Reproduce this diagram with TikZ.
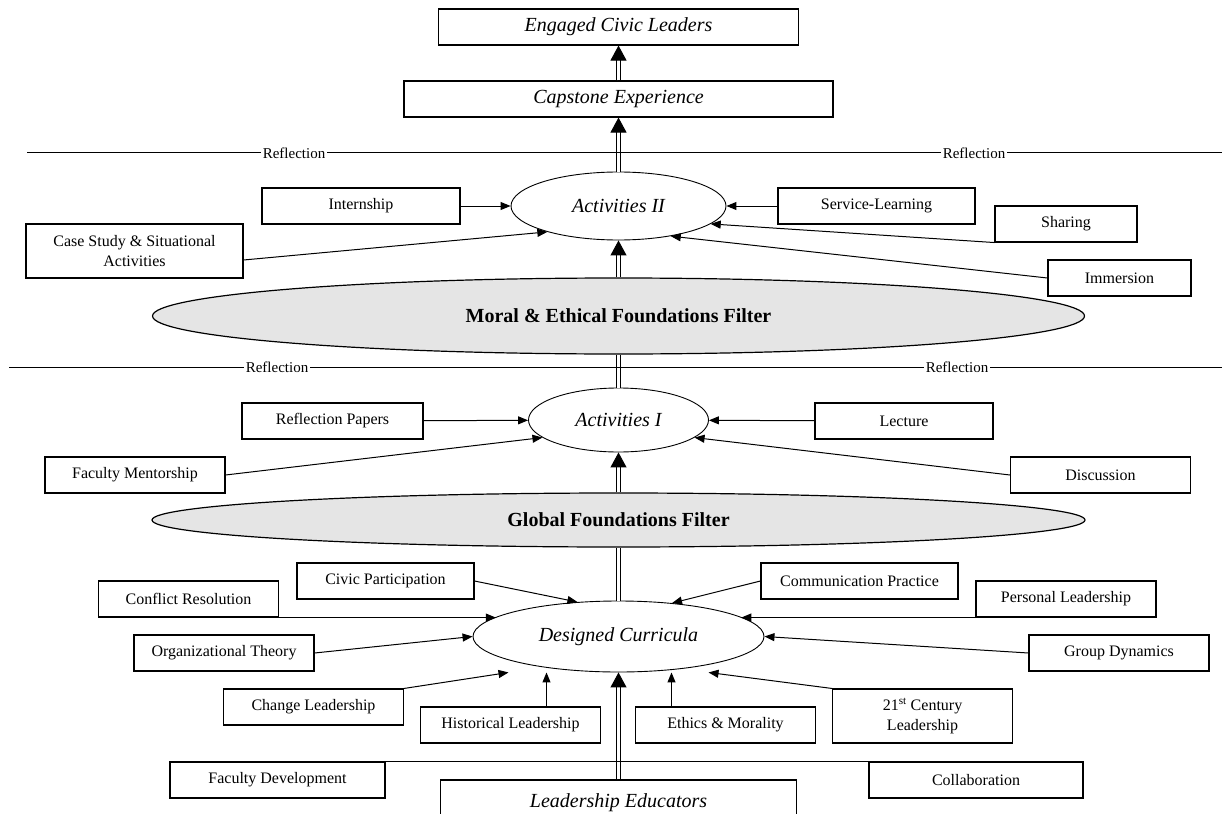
\documentclass[tikz,border=0pt]{standalone}
\usepackage{fontspec}
\setmainfont{Liberation Serif}
\usetikzlibrary{arrows.meta,positioning,calc,shapes.geometric}

\begin{document}
\begin{tikzpicture}[x=1pt,y=-1pt,
    box/.style={draw,line width=1.1pt,minimum width=180pt,minimum height=36pt,inner sep=2pt,align=center,font=\fontsize{16}{20}\selectfont},
    bigbox/.style={box,font=\fontsize{20}{24}\selectfont\itshape},
    oval/.style={draw,ellipse,line width=0.9pt,inner sep=0pt,font=\fontsize{20}{24}\selectfont\itshape},
    filter/.style={draw,ellipse,line width=1.2pt,inner sep=0pt,fill=black!10,font=\fontsize{20}{24}\selectfont\bfseries},
    refl/.style={inner sep=2pt,font=\fontsize{15}{17}\selectfont},
    arr/.style={line width=1pt,-{Triangle[length=10pt,width=8pt]}},
    trunk/.style={double,double distance=3.5pt,line width=1pt},
    uparr/.style={trunk,-{Triangle[length=15pt,width=16pt]}}]
    \useasboundingbox (0,0) rectangle (1222,813);
    \node[bigbox,minimum width=360pt] (eng) at (618.5,27) {Engaged Civic Leaders};
    \node[bigbox,minimum width=429pt] (cap) at (618.5,99) {Capstone Experience};
    \node[oval,minimum width=215pt,minimum height=68pt] (act2) at (618.5,206) {Activities II};
    \node[box,minimum width=198pt] (int) at (361,206) {Internship};
    \node[box,minimum width=197pt] (svc) at (876.5,206) {Service-Learning};
    \node[box,minimum width=142pt] (shr) at (1066,224) {Sharing};
    \node[box,minimum width=217pt,minimum height=54pt] (case) at (134.5,251) {Case Study \& Situational\\Activities};
    \node[box,minimum width=143pt] (imm) at (1119.5,278) {Immersion};
    \node[filter,minimum width=932pt,minimum height=76pt] (mef) at (618.5,316) {Moral \& Ethical Foundations Filter};
    \node[oval,minimum width=180pt,minimum height=64pt] (act1) at (618.5,420) {Activities I};
    \node[box,minimum width=181pt] (rp) at (332.5,421) {Reflection Papers};
    \node[box,minimum width=178pt] (lec) at (904,421) {Lecture};
    \node[box] (fm) at (135,475) {Faculty Mentorship};
    \node[box] (disc) at (1100.5,475) {Discussion};
    \node[filter,minimum width=933pt,minimum height=54pt] (gff) at (618.5,520) {Global Foundations Filter};
    \node[oval,minimum width=291pt,minimum height=71pt,label={[font=\fontsize{20}{24}\selectfont\itshape]center:Designed Curricula}] (dc) at (618.5,636.5) {};
    \node[box,minimum width=177pt] (civ) at (385.5,581) {Civic Participation};
    \node[box,minimum width=197pt] (com) at (859.5,581) {Communication Practice};
    \node[box] (conf) at (188.5,599) {Conflict Resolution};
    \node[box] (pers) at (1066,599) {Personal Leadership};
    \node[box] (org) at (224,653) {Organizational Theory};
    \node[box] (grp) at (1119,653) {Group Dynamics};
    \node[box] (chg) at (313.5,707) {Change Leadership};
    \node[box] (hist) at (510.5,725) {Historical Leadership};
    \node[box] (eth) at (725.5,725) {Ethics \& Morality};
    \node[box,minimum height=54pt] (c21) at (922.5,716) {21\textsuperscript{st} Century\\Leadership};
    \node[box,minimum width=215pt] (fd) at (277.5,780) {Faculty Development};
    \node[box,minimum width=214pt] (col) at (976,780) {Collaboration};
    \node[bigbox,minimum width=356pt,minimum height=46pt] (le) at (618.5,803) {Leadership Educators};

    \draw[uparr] (le) -- (dc);
    \draw[trunk] (dc) -- (gff);
    \draw[uparr] (gff) -- (act1);
    \draw[trunk] (act1) -- (mef);
    \draw[uparr] (mef) -- (act2);
    \draw[uparr] (act2) -- (cap);
    \draw[uparr] (cap) -- (eng);

    \coordinate (r1w) at (27,153);
    \coordinate (r1e) at (1222,153);
    \node[refl] (r1a) at (294,153) {Reflection};
    \node[refl] (r1b) at (974,153) {Reflection};
    \draw[line width=1pt] (r1w) -- (r1a) -- (r1b) -- (r1e);
    \coordinate (r2w) at (9,367);
    \coordinate (r2e) at (1222,367);
    \node[refl] (r2a) at (277,367) {Reflection};
    \node[refl] (r2b) at (957,367) {Reflection};
    \draw[line width=1pt] (r2w) -- (r2a) -- (r2b) -- (r2e);

    \draw[arr] (int) -- (act2);
    \draw[arr] (svc) -- (act2);
    \draw[arr] (shr.south west) -- (act2.-11);
    \draw[arr] ([yshift=-9pt]case.east) -- (act2.200);
    \draw[arr] (imm.west) -- (act2.-30);
    \draw[arr] (rp) -- (act1);
    \draw[arr] (lec) -- (act1);
    \draw[arr] (fm.east) -- (act1.193);
    \draw[arr] (disc.west) -- (act1.-13);
    \draw[arr] (civ.east) -- (dc.140);
    \draw[arr] (com.west) -- (dc.32);
    \draw[arr] (conf.south east) -- (conf.south east -| dc.171);
    \draw[arr] (pers.south west) -- (pers.south west -| dc.9);
    \draw[arr] (org.east) -- (dc.west);
    \draw[arr] (grp.west) -- (dc.east);
    \draw[arr] (chg.north east) -- ([xshift=-110pt]dc.south);
    \draw[arr] (c21.north west) -- ([xshift=90pt]dc.south);
    \draw[arr] ([xshift=36pt]hist.north) -- ([xshift=36pt]hist.north |- dc.south);
    \draw[arr] ([xshift=-54pt]eth.north) -- ([xshift=-54pt]eth.north |- dc.south);
    \draw[line width=1.1pt] (fd.north east) -- (col.north west);
\end{tikzpicture}
\end{document}
